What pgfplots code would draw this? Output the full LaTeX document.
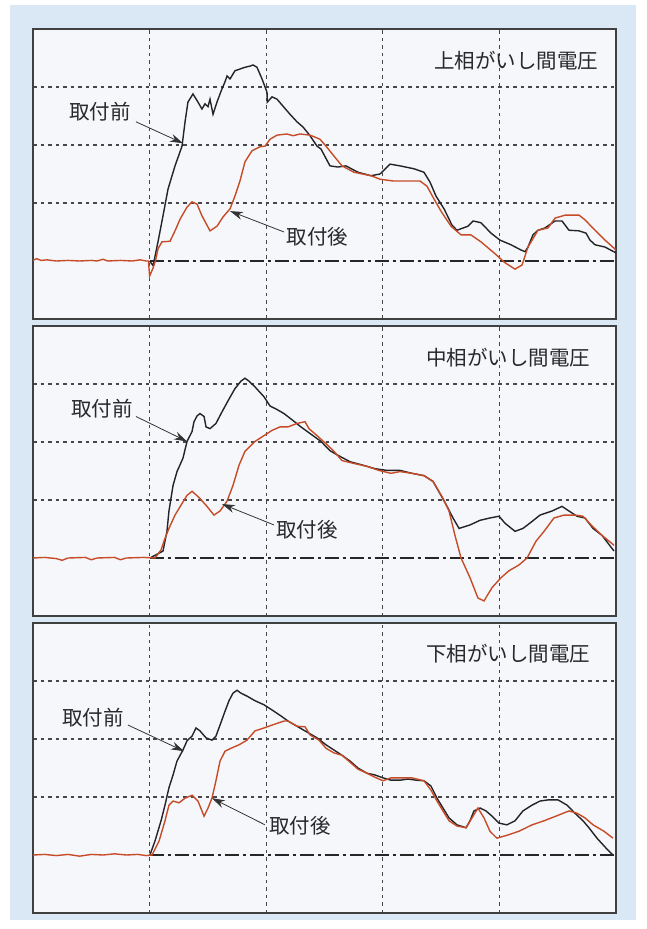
\documentclass[border=0pt]{standalone}
\usepackage{fontspec}
\usepackage{pgfplots}
\pgfplotsset{compat=1.18}
\usetikzlibrary{arrows.meta}
\newfontfamily\jp{Noto Sans CJK JP}
\definecolor{bgblue}{RGB}{218,231,244}
\definecolor{panelbg}{RGB}{245,247,250}
\definecolor{before}{RGB}{35,35,40}
\definecolor{after}{RGB}{200,75,40}
\definecolor{gridc}{RGB}{70,70,75}
\definecolor{txt}{RGB}{40,40,45}

\pgfplotsset{panel/.style={
  scale only axis, width=583pt, height=290pt,
  xmin=0,xmax=5,ymin=-1,ymax=4,
  xtick={1,2,3,4}, ytick={1,2,3},
  xticklabels={}, yticklabels={},
  major tick length=0pt,
  grid=major,
  major grid style={gridc, line width=1.1pt, dash pattern=on 3.5pt off 4pt},
  axis line style={draw=gray!50!black, line width=1.3pt},
  axis background/.style={fill=panelbg},
  anchor=north west,
},
bef/.style={before, line width=1.4pt, no marks},
aft/.style={after, line width=1.4pt, no marks},
base/.style={black!85, line width=1.3pt, dash pattern=on 14pt off 4pt on 3pt off 4pt, no marks},
}
\tikzset{lbl/.style={font=\jp\fontsize{20.5}{22}\selectfont, text=txt, inner sep=0pt},
  arr/.style={draw=black!80, line width=0.8pt, -{Stealth[length=13pt,width=8pt]}}}

\begin{document}
\begin{tikzpicture}
\fill[white] (0,0) rectangle (646pt,-929pt);
\fill[bgblue] (10pt,-5pt) rectangle (636pt,-920pt);

% ---------- Panel 1 ----------
\begin{axis}[panel, at={(33pt,-29pt)}]
\addplot[base] coordinates {(1,0) (5,0)};
\addplot[bef] coordinates {
(1.0,0) (1.03,-0.08) (1.072,0.33) (1.115,0.78) (1.158,1.24) (1.218,1.64) (1.278,1.98) (1.304,2.40)
(1.329,2.74) (1.372,2.88) (1.415,2.74) (1.449,2.62) (1.475,2.71) (1.501,2.66) (1.518,2.79)
(1.544,2.53) (1.578,2.74) (1.621,2.97) (1.647,3.09) (1.664,3.19) (1.690,3.14) (1.732,3.28)
(1.775,3.31) (1.818,3.34) (1.861,3.36) (1.887,3.38) (1.921,3.34) (1.964,3.14) (2.007,2.91)
(2.01,2.74) (2.050,2.83) (2.093,2.79) (2.144,2.67) (2.204,2.53) (2.264,2.40) (2.316,2.31)
(2.376,2.16) (2.436,1.98) (2.470,1.93) (2.547,1.64) (2.616,1.62) (2.684,1.64) (2.787,1.53)
(2.899,1.47) (2.976,1.50) (3.062,1.67) (3.148,1.64) (3.268,1.59) (3.353,1.53) (3.405,1.36)
(3.456,1.12) (3.525,0.90) (3.593,0.62) (3.636,0.53) (3.731,0.60) (3.774,0.69) (3.842,0.66)
(3.928,0.48) (4.005,0.36) (4.099,0.28) (4.185,0.19) (4.220,0.16) (4.245,0.24) (4.288,0.45)
(4.331,0.53) (4.391,0.57) (4.477,0.69) (4.537,0.69) (4.597,0.53) (4.683,0.52) (4.743,0.48)
(4.777,0.36) (4.820,0.28) (4.906,0.24) (5.0,0.14)};
\addplot[aft] coordinates {
(0,0.01) (0.03,0.04) (0.07,0.01) (0.12,0.02) (0.2,0.0) (0.3,0.01) (0.4,0.0) (0.5,0.01)
(0.55,0.0) (0.6,0.03) (0.64,0.0) (0.75,0.01) (0.85,0.0) (0.92,0.02) (0.97,0.0) (0.99,0.0)
(1.0,-0.26) (1.03,-0.12) (1.05,0.0) (1.072,0.21) (1.106,0.33) (1.175,0.34) (1.218,0.52)
(1.261,0.72) (1.321,0.93) (1.364,1.02) (1.407,0.98) (1.449,0.78) (1.518,0.52) (1.578,0.60)
(1.630,0.76) (1.690,0.90) (1.732,1.12) (1.775,1.38) (1.818,1.71) (1.878,1.90) (1.947,1.97)
(1.990,1.98) (2.033,2.10) (2.093,2.17) (2.178,2.19) (2.230,2.16) (2.290,2.19) (2.376,2.17)
(2.461,2.10) (2.513,1.98) (2.581,1.81) (2.650,1.64) (2.753,1.53) (2.899,1.47) (2.976,1.41)
(3.087,1.38) (3.208,1.38) (3.319,1.38) (3.379,1.29) (3.439,1.07) (3.499,0.86) (3.585,0.60)
(3.671,0.45) (3.756,0.45) (3.842,0.33) (3.954,0.14) (4.048,-0.03) (4.134,-0.14) (4.194,-0.07)
(4.245,0.24) (4.331,0.53) (4.417,0.57) (4.477,0.74) (4.563,0.79) (4.683,0.79) (4.734,0.71)
(4.820,0.53) (4.906,0.36) (5.0,0.19)};
\node[lbl, anchor=east] at (axis cs:4.85,3.45) {上相がいし間電圧};
\node[lbl] at (axis cs:0.575,2.57) {取付前};
\node[lbl] at (axis cs:2.44,0.41) {取付後};
\draw[arr] (axis cs:0.883,2.40) -- (axis cs:1.286,2.03);
\draw[arr] (axis cs:2.153,0.50) -- (axis cs:1.690,0.86);
\end{axis}

% ---------- Panel 2 ----------
\begin{axis}[panel, at={(33pt,-326pt)}]
\addplot[base] coordinates {(1,0) (5,0)};
\addplot[bef] coordinates {
(1.003,0) (1.115,0.12) (1.149,0.46) (1.166,0.81) (1.201,1.25) (1.235,1.49) (1.286,1.72)
(1.321,2.01) (1.364,2.18) (1.381,2.35) (1.407,2.45) (1.432,2.49) (1.467,2.44) (1.484,2.26)
(1.518,2.23) (1.569,2.32) (1.621,2.52) (1.681,2.74) (1.732,2.92) (1.784,3.05) (1.818,3.10)
(1.852,3.05) (1.904,2.95) (1.981,2.78) (2.033,2.62) (2.084,2.57) (2.153,2.49) (2.230,2.37)
(2.298,2.26) (2.401,2.11) (2.470,2.01) (2.547,1.85) (2.616,1.77) (2.719,1.66) (2.830,1.60)
(2.933,1.54) (3.036,1.51) (3.148,1.51) (3.250,1.46) (3.353,1.42) (3.431,1.32) (3.499,1.08)
(3.551,0.89) (3.602,0.69) (3.654,0.51) (3.748,0.57) (3.834,0.65) (3.919,0.69) (3.997,0.72)
(4.048,0.60) (4.134,0.46) (4.202,0.51) (4.280,0.63) (4.348,0.74) (4.451,0.81) (4.537,0.89)
(4.597,0.81) (4.666,0.72) (4.734,0.69) (4.803,0.51) (4.880,0.39) (4.983,0.12)};
\addplot[aft] coordinates {
(0,0.0) (0.1,0.01) (0.2,-0.01) (0.25,-0.04) (0.3,0.0) (0.45,0.01) (0.5,-0.03) (0.55,0.0)
(0.7,0.01) (0.75,-0.03) (0.8,0.0) (0.95,0.01) (1.046,0) (1.098,0.14) (1.132,0.34) (1.166,0.51)
(1.218,0.74) (1.269,0.91) (1.321,1.08) (1.364,1.15) (1.415,1.06) (1.484,0.91) (1.552,0.74)
(1.604,0.81) (1.664,0.98) (1.715,1.25) (1.767,1.60) (1.818,1.84) (1.904,2.01) (1.981,2.11)
(2.050,2.20) (2.118,2.26) (2.187,2.26) (2.264,2.32) (2.333,2.35) (2.367,2.23) (2.436,2.11)
(2.513,1.97) (2.581,1.84) (2.650,1.68) (2.753,1.63) (2.864,1.58) (2.967,1.51) (3.070,1.46)
(3.148,1.49) (3.250,1.46) (3.353,1.42) (3.431,1.32) (3.516,1.03) (3.568,0.81) (3.619,0.39)
(3.671,0) (3.748,-0.34) (3.816,-0.69) (3.868,-0.74) (3.937,-0.51) (4.014,-0.34) (4.082,-0.22)
(4.168,-0.12) (4.237,0) (4.314,0.29) (4.383,0.46) (4.468,0.69) (4.554,0.74) (4.648,0.74)
(4.717,0.72) (4.786,0.57) (4.880,0.39) (4.983,0.22)};
\node[lbl, anchor=east] at (axis cs:4.78,3.46) {中相がいし間電圧};
\node[lbl] at (axis cs:0.59,2.57) {取付前};
\node[lbl] at (axis cs:2.35,0.48) {取付後};
\draw[arr] (axis cs:0.883,2.44) -- (axis cs:1.321,2.01);
\draw[arr] (axis cs:2.067,0.57) -- (axis cs:1.621,0.93);
\end{axis}

% ---------- Panel 3 ----------
\begin{axis}[panel, at={(33pt,-623pt)}]
\addplot[base] coordinates {(1,0) (5,0)};
\addplot[bef] coordinates {
(1.003,0) (1.046,0.24) (1.098,0.59) (1.132,0.86) (1.166,1.16) (1.201,1.38) (1.235,1.62)
(1.286,1.81) (1.321,1.97) (1.364,2.05) (1.398,2.19) (1.432,2.14) (1.484,2.02) (1.535,1.98)
(1.569,2.05) (1.604,2.24) (1.647,2.48) (1.681,2.66) (1.715,2.79) (1.750,2.84) (1.784,2.79)
(1.835,2.74) (1.904,2.66) (1.981,2.59) (2.050,2.50) (2.118,2.41) (2.187,2.31) (2.264,2.22)
(2.367,2.10) (2.436,2.02) (2.513,1.90) (2.581,1.81) (2.650,1.72) (2.719,1.62) (2.787,1.50)
(2.864,1.41) (2.933,1.38) (3.002,1.33) (3.070,1.29) (3.148,1.29) (3.216,1.31) (3.285,1.29)
(3.353,1.28) (3.413,1.19) (3.465,0.98) (3.516,0.81) (3.568,0.64) (3.636,0.52) (3.714,0.47)
(3.748,0.59) (3.782,0.76) (3.834,0.81) (3.885,0.76) (3.937,0.67) (3.997,0.55) (4.065,0.52)
(4.134,0.59) (4.202,0.76) (4.280,0.86) (4.348,0.93) (4.417,0.95) (4.503,0.95) (4.580,0.86)
(4.648,0.72) (4.717,0.59) (4.768,0.47) (4.837,0.29) (4.914,0.12) (4.974,0)};
\addplot[aft] coordinates {
(0,0.0) (0.1,0.01) (0.2,-0.01) (0.3,0.01) (0.4,-0.02) (0.5,0.01) (0.6,0.0) (0.7,0.02)
(0.8,0.0) (0.9,0.01) (0.97,-0.01) (1.021,0) (1.081,0.24) (1.132,0.59) (1.166,0.86) (1.201,0.93)
(1.252,0.90) (1.304,0.98) (1.364,1.03) (1.415,0.93) (1.467,0.67) (1.501,0.81) (1.535,0.98)
(1.569,1.28) (1.604,1.62) (1.647,1.79) (1.698,1.84) (1.767,1.90) (1.835,1.98) (1.904,2.14)
(1.981,2.19) (2.050,2.24) (2.153,2.31) (2.187,2.31) (2.264,2.22) (2.333,2.21) (2.376,2.07)
(2.453,1.98) (2.513,1.84) (2.581,1.76) (2.650,1.72) (2.719,1.60) (2.787,1.48) (2.864,1.41)
(2.933,1.34) (3.002,1.28) (3.070,1.33) (3.148,1.33) (3.250,1.33) (3.353,1.28) (3.413,1.12)
(3.465,0.93) (3.516,0.76) (3.568,0.59) (3.636,0.50) (3.714,0.47) (3.765,0.64) (3.816,0.81)
(3.868,0.64) (3.919,0.41) (3.979,0.29) (4.065,0.34) (4.168,0.41) (4.280,0.52) (4.383,0.59)
(4.485,0.67) (4.597,0.76) (4.666,0.72) (4.734,0.64) (4.803,0.52) (4.897,0.41) (4.974,0.29)};
\node[lbl, anchor=east] at (axis cs:4.78,3.48) {下相がいし間電圧};
\node[lbl] at (axis cs:0.515,2.36) {取付前};
\node[lbl] at (axis cs:2.29,0.50) {取付後};
\draw[arr] (axis cs:0.815,2.24) -- (axis cs:1.295,1.79);
\draw[arr] (axis cs:1.99,0.52) -- (axis cs:1.535,0.98);
\end{axis}
\end{tikzpicture}
\end{document}
